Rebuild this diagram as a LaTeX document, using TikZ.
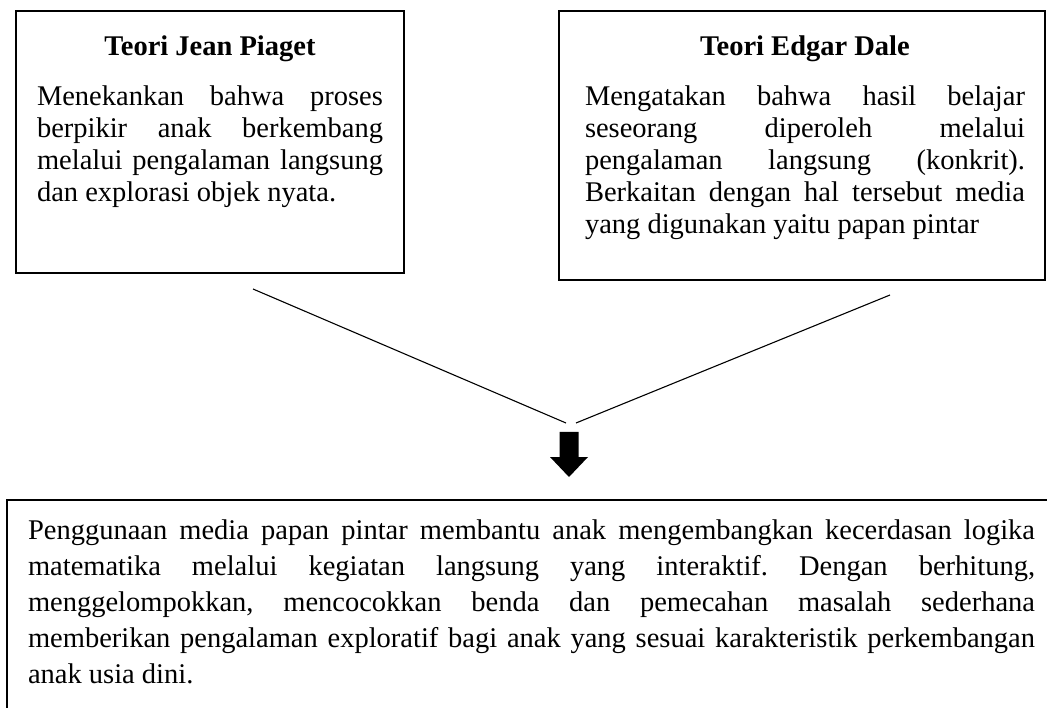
\documentclass[tikz,border=0pt]{standalone}
\usepackage{fontspec}
\setmainfont{Liberation Serif}
\frenchspacing
\newcommand\bodyfont{\fontsize{28.5}{32}\selectfont}
\newcommand\bottomfont{\fontsize{28.5}{36}\selectfont}
\newcommand\jline[1]{\makebox[\linewidth][s]{#1}}
\begin{document}
\begin{tikzpicture}[x=1pt,y=-1pt,
  box/.style={draw, line width=2.4pt, inner sep=0, outer sep=0},
  link/.style={line width=1.1pt},
  txt/.style={anchor=base west, inner sep=0, outer sep=0},
  ttl/.style={anchor=base, inner sep=0, outer sep=0, font=\bfseries\fontsize{28.5}{33}\selectfont}]
\useasboundingbox (0,0) rectangle (1047,708);
\fill[white] (0,0) rectangle (1047,708);
\clip (0,0) rectangle (1047,708);

% boxes
\node[box, minimum width=388, minimum height=262] (piaget) at (210,142) {};
\node[box, minimum width=486, minimum height=269] (dale) at (802,145.5) {};
\node[box, minimum width=1053, minimum height=220] (result) at (533.5,610) {};

% titles
\node[ttl] (piagettitle) at (210,56) {Teori Jean Piaget};
\node[ttl] (daletitle) at (805,56) {Teori Edgar Dale};

% texts
\node[txt] (piagettext) at (37,106) {\parbox[t]{346pt}{\bodyfont
\jline{Menekankan bahwa proses}\\
\jline{berpikir anak berkembang}\\
\jline{melalui pengalaman langsung}\\
dan explorasi objek nyata.}};

\node[txt] (daletext) at (585,106) {\parbox[t]{440pt}{\bodyfont
\jline{Mengatakan bahwa hasil belajar}\\
\jline{seseorang diperoleh melalui}\\
\jline{pengalaman langsung (konkrit).}\\
\jline{Berkaitan dengan hal tersebut media}\\
yang digunakan yaitu papan pintar}};

\node[txt] (resulttext) at (28,539) {\parbox[t]{1007pt}{\bottomfont
\jline{Penggunaan media papan pintar membantu anak mengembangkan kecerdasan logika}\\
\jline{matematika melalui kegiatan langsung yang interaktif. Dengan berhitung,}\\
\jline{menggelompokkan, mencocokkan benda dan pemecahan masalah sederhana}\\
\jline{memberikan pengalaman exploratif bagi anak yang sesuai karakteristik perkembangan}\\
anak usia dini.}};

% connectors
\coordinate (l1) at (253,289);
\coordinate (l2) at (566,423);
\coordinate (r1) at (890,295);
\coordinate (r2) at (576,423);
\draw[link] (l1) -- (l2);
\draw[link] (r1) -- (r2);

% block arrow
\coordinate (arrowtop) at (569,432);
\fill[black] (arrowtop) ++(-9.5,0) -- ++(19,0) -- ++(0,25) -- ++(9.5,0) -- ++(-19,20) -- ++(-19,-20) -- ++(9.5,0) -- cycle;
\end{tikzpicture}
\end{document}
